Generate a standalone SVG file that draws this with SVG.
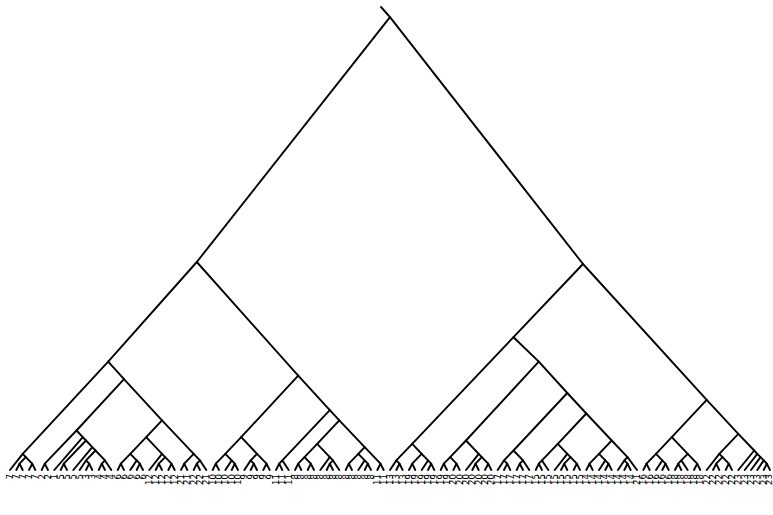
<svg xmlns="http://www.w3.org/2000/svg" width="773" height="515" viewBox="0 0 773 515">
<style>
.e path{stroke:#000;stroke-width:1.9;fill:none;stroke-linecap:round;stroke-linejoin:round}
.lb text{font-family:"DejaVu Sans",sans-serif;font-size:8.6px;fill:#000;text-anchor:end;dominant-baseline:central}
</style>
<rect width="773" height="515" fill="#fff"/>
<g id="connectors" class="e">
<path d="M381 7 L390 17.2"/>
<path d="M196.8 262 L390 17.2 L583 264"/>
<path d="M108.2 361.6 L196.8 262 L298.2 375.6"/>
<path d="M22.7 453.8 L108.2 361.6 L124 379.1"/>
<path d="M10 470 L22.7 453.8 L25.8 457.1"/>
<path d="M19.5 463.7 L25.8 457.1 L32.2 463.7"/>
<path d="M16.3 470 L19.5 463.7 L22.7 470"/>
<path d="M29 470 L32.2 463.7 L35.3 470"/>
<path d="M76.5 430.5 L124 379.1 L162 420.3"/>
<path d="M44.8 463.7 L76.5 430.5 L82.8 437.2"/>
<path d="M41.7 470 L44.8 463.7 L48 470"/>
<path d="M54.3 470 L82.8 437.2 L86 440.5"/>
<path d="M63.8 463.7 L86 440.5 L92.3 447.2"/>
<path d="M60.7 470 L63.8 463.7 L67 470"/>
<path d="M73.3 470 L92.3 447.2 L95.5 450.5"/>
<path d="M86 460.4 L95.5 450.5 L105 460.4"/>
<path d="M79.7 470 L86 460.4 L89.2 463.7"/>
<path d="M86 470 L89.2 463.7 L92.3 470"/>
<path d="M101.8 463.7 L105 460.4 L111.3 470"/>
<path d="M98.7 470 L101.8 463.7 L105 470"/>
<path d="M146.2 437.2 L162 420.3 L193.7 453.8"/>
<path d="M130.3 453.8 L146.2 437.2 L162 453.8"/>
<path d="M120.8 463.7 L130.3 453.8 L136.7 460.4"/>
<path d="M117.7 470 L120.8 463.7 L124 470"/>
<path d="M130.3 470 L136.7 460.4 L139.8 463.7"/>
<path d="M136.7 470 L139.8 463.7 L143 470"/>
<path d="M149.3 470 L162 453.8 L165.2 457.1"/>
<path d="M158.8 463.7 L165.2 457.1 L171.5 463.7"/>
<path d="M155.7 470 L158.8 463.7 L162 470"/>
<path d="M168.3 470 L171.5 463.7 L174.7 470"/>
<path d="M184.2 463.7 L193.7 453.8 L200 460.4"/>
<path d="M181 470 L184.2 463.7 L187.3 470"/>
<path d="M196.8 463.7 L200 460.4 L206.3 470"/>
<path d="M193.7 470 L196.8 463.7 L200 470"/>
<path d="M241.2 437.2 L298.2 375.6 L329.8 410.1"/>
<path d="M225.3 453.8 L241.2 437.2 L257 453.8"/>
<path d="M215.8 463.7 L225.3 453.8 L231.7 460.4"/>
<path d="M212.7 470 L215.8 463.7 L219 470"/>
<path d="M225.3 470 L231.7 460.4 L234.8 463.7"/>
<path d="M231.7 470 L234.8 463.7 L238 470"/>
<path d="M250.7 460.4 L257 453.8 L266.5 463.7"/>
<path d="M244.3 470 L250.7 460.4 L253.8 463.7"/>
<path d="M250.7 470 L253.8 463.7 L257 470"/>
<path d="M263.3 470 L266.5 463.7 L269.7 470"/>
<path d="M282.3 460.4 L329.8 410.1 L339.3 420.3"/>
<path d="M279.2 463.7 L282.3 460.4 L288.7 470"/>
<path d="M276 470 L279.2 463.7 L282.3 470"/>
<path d="M317.2 443.9 L339.3 420.3 L364.7 447.2"/>
<path d="M304.5 457.1 L317.2 443.9 L329.8 457.1"/>
<path d="M298.2 463.7 L304.5 457.1 L310.8 463.7"/>
<path d="M295 470 L298.2 463.7 L301.3 470"/>
<path d="M307.7 470 L310.8 463.7 L314 470"/>
<path d="M320.3 470 L329.8 457.1 L333 460.4"/>
<path d="M329.8 463.7 L333 460.4 L339.3 470"/>
<path d="M326.7 470 L329.8 463.7 L333 470"/>
<path d="M358.3 453.8 L364.7 447.2 L380.5 463.7"/>
<path d="M348.8 463.7 L358.3 453.8 L364.7 460.4"/>
<path d="M345.7 470 L348.8 463.7 L352 470"/>
<path d="M358.3 470 L364.7 460.4 L367.8 463.7"/>
<path d="M364.7 470 L367.8 463.7 L371 470"/>
<path d="M377.3 470 L380.5 463.7 L383.7 470"/>
<path d="M513.5 337.2 L583 264 L706.7 399.8"/>
<path d="M412.2 443.9 L513.5 337.2 L538.8 361.6"/>
<path d="M396.3 460.4 L412.2 443.9 L421.7 453.8"/>
<path d="M390 470 L396.3 460.4 L399.5 463.7"/>
<path d="M396.3 470 L399.5 463.7 L402.7 470"/>
<path d="M412.2 463.7 L421.7 453.8 L428 460.4"/>
<path d="M409 470 L412.2 463.7 L415.3 470"/>
<path d="M421.7 470 L428 460.4 L431.2 463.7"/>
<path d="M428 470 L431.2 463.7 L434.3 470"/>
<path d="M466 440.5 L538.8 361.6 L567.3 393"/>
<path d="M450.2 457.1 L466 440.5 L478.7 453.8"/>
<path d="M443.8 463.7 L450.2 457.1 L456.5 463.7"/>
<path d="M440.7 470 L443.8 463.7 L447 470"/>
<path d="M453.3 470 L456.5 463.7 L459.7 470"/>
<path d="M466 470 L478.7 453.8 L481.8 457.1"/>
<path d="M475.5 463.7 L481.8 457.1 L488.2 463.7"/>
<path d="M472.3 470 L475.5 463.7 L478.7 470"/>
<path d="M485 470 L488.2 463.7 L491.3 470"/>
<path d="M513.5 450.5 L567.3 393 L586.3 413.5"/>
<path d="M504 460.4 L513.5 450.5 L523 460.4"/>
<path d="M497.7 470 L504 460.4 L507.2 463.7"/>
<path d="M504 470 L507.2 463.7 L510.3 470"/>
<path d="M519.8 463.7 L523 460.4 L529.3 470"/>
<path d="M516.7 470 L519.8 463.7 L523 470"/>
<path d="M557.8 443.9 L586.3 413.5 L611.7 440.5"/>
<path d="M542 460.4 L557.8 443.9 L567.3 453.8"/>
<path d="M538.8 463.7 L542 460.4 L548.3 470"/>
<path d="M535.7 470 L538.8 463.7 L542 470"/>
<path d="M554.7 470 L567.3 453.8 L570.5 457.1"/>
<path d="M564.2 463.7 L570.5 457.1 L576.8 463.7"/>
<path d="M561 470 L564.2 463.7 L567.3 470"/>
<path d="M573.7 470 L576.8 463.7 L580 470"/>
<path d="M599 453.8 L611.7 440.5 L627.5 457.1"/>
<path d="M589.5 463.7 L599 453.8 L605.3 460.4"/>
<path d="M586.3 470 L589.5 463.7 L592.7 470"/>
<path d="M599 470 L605.3 460.4 L608.5 463.7"/>
<path d="M605.3 470 L608.5 463.7 L611.7 470"/>
<path d="M624.3 460.4 L627.5 457.1 L637 470"/>
<path d="M618 470 L624.3 460.4 L627.5 463.7"/>
<path d="M624.3 470 L627.5 463.7 L630.7 470"/>
<path d="M671.8 437.2 L706.7 399.8 L738.3 433.8"/>
<path d="M656 453.8 L671.8 437.2 L687.7 453.8"/>
<path d="M646.5 463.7 L656 453.8 L662.3 460.4"/>
<path d="M643.3 470 L646.5 463.7 L649.7 470"/>
<path d="M656 470 L662.3 460.4 L665.5 463.7"/>
<path d="M662.3 470 L665.5 463.7 L668.7 470"/>
<path d="M681.3 460.4 L687.7 453.8 L697.2 463.7"/>
<path d="M678.2 463.7 L681.3 460.4 L687.7 470"/>
<path d="M675 470 L678.2 463.7 L681.3 470"/>
<path d="M694 470 L697.2 463.7 L700.3 470"/>
<path d="M719.3 453.8 L738.3 433.8 L754.2 450.5"/>
<path d="M706.7 470 L719.3 453.8 L722.5 457.1"/>
<path d="M716.2 463.7 L722.5 457.1 L728.8 463.7"/>
<path d="M713 470 L716.2 463.7 L719.3 470"/>
<path d="M725.7 470 L728.8 463.7 L732 470"/>
<path d="M738.3 470 L754.2 450.5 L757.3 453.8"/>
<path d="M744.7 470 L757.3 453.8 L760.5 457.1"/>
<path d="M751 470 L760.5 457.1 L763.7 460.4"/>
<path d="M757.3 470 L763.7 460.4 L766.8 463.7"/>
<path d="M763.7 470 L766.8 463.7 L770 470"/>
</g>
<g id="leaves" class="lb">
<g id="leaf0"><text transform="translate(10,474) rotate(-90)">7</text></g>
<g id="leaf1"><text transform="translate(16.3,474) rotate(-90)">7</text></g>
<g id="leaf2"><text transform="translate(22.7,474) rotate(-90)">7</text></g>
<g id="leaf3"><text transform="translate(29,474) rotate(-90)">7</text></g>
<g id="leaf4"><text transform="translate(35.3,474) rotate(-90)">7</text></g>
<g id="leaf5"><text transform="translate(41.7,474) rotate(-90)">2</text></g>
<g id="leaf6"><text transform="translate(48,474) rotate(-90)">2</text></g>
<g id="leaf7"><text transform="translate(54.3,474) rotate(-90)">1</text></g>
<g id="leaf8"><text transform="translate(60.7,474) rotate(-90)">5</text></g>
<g id="leaf9"><text transform="translate(67,474) rotate(-90)">5</text></g>
<g id="leaf10"><text transform="translate(73.3,474) rotate(-90)">5</text></g>
<g id="leaf11"><text transform="translate(79.7,474) rotate(-90)">5</text></g>
<g id="leaf12"><text transform="translate(86,474) rotate(-90)">3</text></g>
<g id="leaf13"><text transform="translate(92.3,474) rotate(-90)">3</text></g>
<g id="leaf14"><text transform="translate(98.7,474) rotate(-90)">4</text></g>
<g id="leaf15"><text transform="translate(105,474) rotate(-90)">4</text></g>
<g id="leaf16"><text transform="translate(111.3,474) rotate(-90)">4</text></g>
<g id="leaf17"><text transform="translate(117.7,474) rotate(-90)">6</text></g>
<g id="leaf18"><text transform="translate(124,474) rotate(-90)">6</text></g>
<g id="leaf19"><text transform="translate(130.3,474) rotate(-90)">6</text></g>
<g id="leaf20"><text transform="translate(136.7,474) rotate(-90)">6</text></g>
<g id="leaf21"><text transform="translate(143,474) rotate(-90)">6</text></g>
<g id="leaf22"><text transform="translate(149.3,474) rotate(-90)">12</text></g>
<g id="leaf23"><text transform="translate(155.7,474) rotate(-90)">12</text></g>
<g id="leaf24"><text transform="translate(162,474) rotate(-90)">12</text></g>
<g id="leaf25"><text transform="translate(168.3,474) rotate(-90)">12</text></g>
<g id="leaf26"><text transform="translate(174.7,474) rotate(-90)">12</text></g>
<g id="leaf27"><text transform="translate(181,474) rotate(-90)">21</text></g>
<g id="leaf28"><text transform="translate(187.3,474) rotate(-90)">21</text></g>
<g id="leaf29"><text transform="translate(193.7,474) rotate(-90)">22</text></g>
<g id="leaf30"><text transform="translate(200,474) rotate(-90)">22</text></g>
<g id="leaf31"><text transform="translate(206.3,474) rotate(-90)">21</text></g>
<g id="leaf32"><text transform="translate(212.7,474) rotate(-90)">10</text></g>
<g id="leaf33"><text transform="translate(219,474) rotate(-90)">10</text></g>
<g id="leaf34"><text transform="translate(225.3,474) rotate(-90)">10</text></g>
<g id="leaf35"><text transform="translate(231.7,474) rotate(-90)">10</text></g>
<g id="leaf36"><text transform="translate(238,474) rotate(-90)">10</text></g>
<g id="leaf37"><text transform="translate(244.3,474) rotate(-90)">9</text></g>
<g id="leaf38"><text transform="translate(250.7,474) rotate(-90)">9</text></g>
<g id="leaf39"><text transform="translate(257,474) rotate(-90)">9</text></g>
<g id="leaf40"><text transform="translate(263.3,474) rotate(-90)">9</text></g>
<g id="leaf41"><text transform="translate(269.7,474) rotate(-90)">9</text></g>
<g id="leaf42"><text transform="translate(276,474) rotate(-90)">11</text></g>
<g id="leaf43"><text transform="translate(282.3,474) rotate(-90)">11</text></g>
<g id="leaf44"><text transform="translate(288.7,474) rotate(-90)">11</text></g>
<g id="leaf45"><text transform="translate(295,474) rotate(-90)">8</text></g>
<g id="leaf46"><text transform="translate(301.3,474) rotate(-90)">8</text></g>
<g id="leaf47"><text transform="translate(307.7,474) rotate(-90)">8</text></g>
<g id="leaf48"><text transform="translate(314,474) rotate(-90)">8</text></g>
<g id="leaf49"><text transform="translate(320.3,474) rotate(-90)">8</text></g>
<g id="leaf50"><text transform="translate(326.7,474) rotate(-90)">8</text></g>
<g id="leaf51"><text transform="translate(333,474) rotate(-90)">8</text></g>
<g id="leaf52"><text transform="translate(339.3,474) rotate(-90)">8</text></g>
<g id="leaf53"><text transform="translate(345.7,474) rotate(-90)">8</text></g>
<g id="leaf54"><text transform="translate(352,474) rotate(-90)">8</text></g>
<g id="leaf55"><text transform="translate(358.3,474) rotate(-90)">8</text></g>
<g id="leaf56"><text transform="translate(364.7,474) rotate(-90)">8</text></g>
<g id="leaf57"><text transform="translate(371,474) rotate(-90)">8</text></g>
<g id="leaf58"><text transform="translate(377.3,474) rotate(-90)">11</text></g>
<g id="leaf59"><text transform="translate(383.7,474) rotate(-90)">11</text></g>
<g id="leaf60"><text transform="translate(390,474) rotate(-90)">13</text></g>
<g id="leaf61"><text transform="translate(396.3,474) rotate(-90)">13</text></g>
<g id="leaf62"><text transform="translate(402.7,474) rotate(-90)">13</text></g>
<g id="leaf63"><text transform="translate(409,474) rotate(-90)">19</text></g>
<g id="leaf64"><text transform="translate(415.3,474) rotate(-90)">19</text></g>
<g id="leaf65"><text transform="translate(421.7,474) rotate(-90)">19</text></g>
<g id="leaf66"><text transform="translate(428,474) rotate(-90)">19</text></g>
<g id="leaf67"><text transform="translate(434.3,474) rotate(-90)">19</text></g>
<g id="leaf68"><text transform="translate(440.7,474) rotate(-90)">19</text></g>
<g id="leaf69"><text transform="translate(447,474) rotate(-90)">19</text></g>
<g id="leaf70"><text transform="translate(453.3,474) rotate(-90)">20</text></g>
<g id="leaf71"><text transform="translate(459.7,474) rotate(-90)">20</text></g>
<g id="leaf72"><text transform="translate(466,474) rotate(-90)">20</text></g>
<g id="leaf73"><text transform="translate(472.3,474) rotate(-90)">20</text></g>
<g id="leaf74"><text transform="translate(478.7,474) rotate(-90)">20</text></g>
<g id="leaf75"><text transform="translate(485,474) rotate(-90)">20</text></g>
<g id="leaf76"><text transform="translate(491.3,474) rotate(-90)">20</text></g>
<g id="leaf77"><text transform="translate(497.7,474) rotate(-90)">17</text></g>
<g id="leaf78"><text transform="translate(504,474) rotate(-90)">17</text></g>
<g id="leaf79"><text transform="translate(510.3,474) rotate(-90)">17</text></g>
<g id="leaf80"><text transform="translate(516.7,474) rotate(-90)">17</text></g>
<g id="leaf81"><text transform="translate(523,474) rotate(-90)">17</text></g>
<g id="leaf82"><text transform="translate(529.3,474) rotate(-90)">17</text></g>
<g id="leaf83"><text transform="translate(535.7,474) rotate(-90)">15</text></g>
<g id="leaf84"><text transform="translate(542,474) rotate(-90)">15</text></g>
<g id="leaf85"><text transform="translate(548.3,474) rotate(-90)">15</text></g>
<g id="leaf86"><text transform="translate(554.7,474) rotate(-90)">15</text></g>
<g id="leaf87"><text transform="translate(561,474) rotate(-90)">15</text></g>
<g id="leaf88"><text transform="translate(567.3,474) rotate(-90)">15</text></g>
<g id="leaf89"><text transform="translate(573.7,474) rotate(-90)">15</text></g>
<g id="leaf90"><text transform="translate(580,474) rotate(-90)">15</text></g>
<g id="leaf91"><text transform="translate(586.3,474) rotate(-90)">14</text></g>
<g id="leaf92"><text transform="translate(592.7,474) rotate(-90)">14</text></g>
<g id="leaf93"><text transform="translate(599,474) rotate(-90)">14</text></g>
<g id="leaf94"><text transform="translate(605.3,474) rotate(-90)">14</text></g>
<g id="leaf95"><text transform="translate(611.7,474) rotate(-90)">14</text></g>
<g id="leaf96"><text transform="translate(618,474) rotate(-90)">14</text></g>
<g id="leaf97"><text transform="translate(624.3,474) rotate(-90)">14</text></g>
<g id="leaf98"><text transform="translate(630.7,474) rotate(-90)">14</text></g>
<g id="leaf99"><text transform="translate(637,474) rotate(-90)">21</text></g>
<g id="leaf100"><text transform="translate(643.3,474) rotate(-90)">16</text></g>
<g id="leaf101"><text transform="translate(649.7,474) rotate(-90)">16</text></g>
<g id="leaf102"><text transform="translate(656,474) rotate(-90)">16</text></g>
<g id="leaf103"><text transform="translate(662.3,474) rotate(-90)">16</text></g>
<g id="leaf104"><text transform="translate(668.7,474) rotate(-90)">16</text></g>
<g id="leaf105"><text transform="translate(675,474) rotate(-90)">18</text></g>
<g id="leaf106"><text transform="translate(681.3,474) rotate(-90)">18</text></g>
<g id="leaf107"><text transform="translate(687.7,474) rotate(-90)">18</text></g>
<g id="leaf108"><text transform="translate(694,474) rotate(-90)">18</text></g>
<g id="leaf109"><text transform="translate(700.3,474) rotate(-90)">18</text></g>
<g id="leaf110"><text transform="translate(706.7,474) rotate(-90)">22</text></g>
<g id="leaf111"><text transform="translate(713,474) rotate(-90)">22</text></g>
<g id="leaf112"><text transform="translate(719.3,474) rotate(-90)">22</text></g>
<g id="leaf113"><text transform="translate(725.7,474) rotate(-90)">22</text></g>
<g id="leaf114"><text transform="translate(732,474) rotate(-90)">22</text></g>
<g id="leaf115"><text transform="translate(738.3,474) rotate(-90)">23</text></g>
<g id="leaf116"><text transform="translate(744.7,474) rotate(-90)">23</text></g>
<g id="leaf117"><text transform="translate(751,474) rotate(-90)">23</text></g>
<g id="leaf118"><text transform="translate(757.3,474) rotate(-90)">23</text></g>
<g id="leaf119"><text transform="translate(763.7,474) rotate(-90)">23</text></g>
<g id="leaf120"><text transform="translate(768.6,474) rotate(-90)">23</text></g>
</g>
</svg>
